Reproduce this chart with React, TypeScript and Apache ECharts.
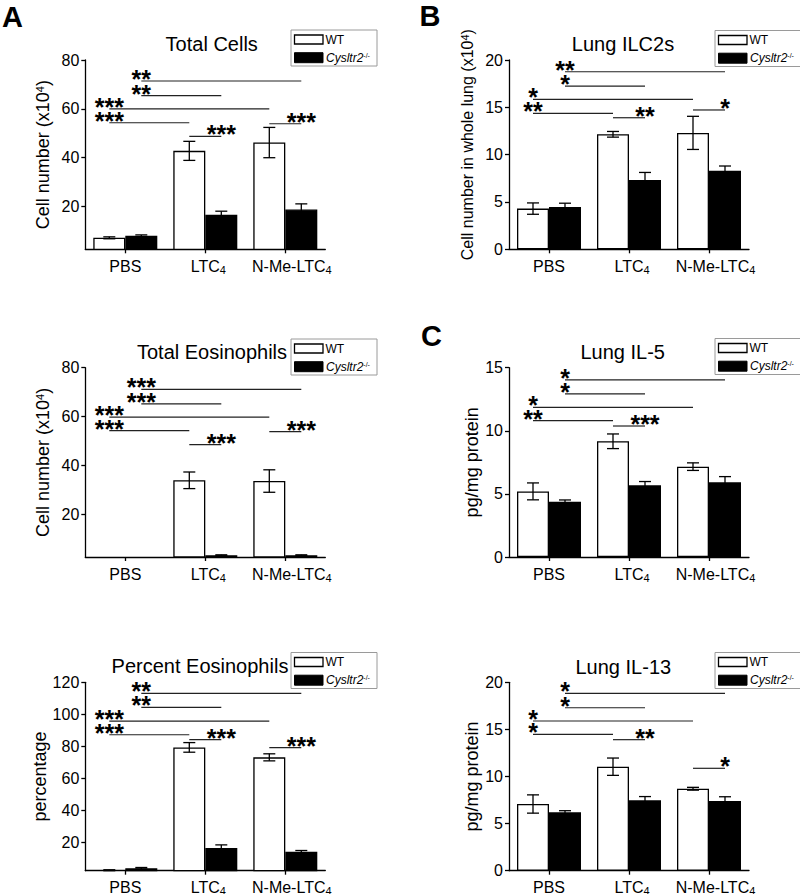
import React, { useEffect, useRef } from 'react';
import * as echarts from 'echarts';

const FONT = '"Liberation Sans", Arial, Helvetica, sans-serif';

// ---------- data ----------
const categories = ['PBS', 'LTC4', 'N-Me-LTC4'];

const totalCellsWT = [7.2, 42.8, 46.2];
const totalCellsWTErr = [0.4, 3.9, 6.2];
const totalCellsKO = [8.0, 16.6, 18.8];
const totalCellsKOErr = [0.4, 1.5, 2.3];

const totalEosWT = [0.4, 33.9, 33.6];
const totalEosWTErr = [0, 3.4, 4.6];
const totalEosKO = [0.2, 3.2, 3.2];
const totalEosKOErr = [0, 0.2, 0.2];

const pctEosWT = [2.8, 79.4, 73.2];
const pctEosWTErr = [0.3, 3.0, 2.2];
const pctEosKO = [4.0, 16.6, 14.3];
const pctEosKOErr = [0.5, 2.0, 0.8];

const ilc2WT = [4.3, 12.15, 12.3];
const ilc2WTErr = [0.6, 0.3, 1.75];
const ilc2KO = [4.47, 7.32, 8.3];
const ilc2KOErr = [0.4, 0.8, 0.5];

const il5WT = [5.2, 9.17, 7.16];
const il5WTErr = [0.67, 0.58, 0.3];
const il5KO = [4.38, 5.68, 5.92];
const il5KOErr = [0.14, 0.3, 0.45];

const il13WT = [7.08, 11.04, 8.7];
const il13WTErr = [0.97, 0.92, 0.15];
const il13KO = [6.2, 7.47, 7.4];
const il13KOErr = [0.17, 0.4, 0.45];

// significance: [fromCat, fromSide(-1 WT / 1 KO), toCat, toSide, y, stars, anchorAtEnd]
const sigTotalCells = [
  [0, 1, 2, 1, 71.4, '**', 0],
  [0, 1, 1, 1, 65.4, '**', 0],
  [0, -1, 2, -1, 60.0, '***', 0],
  [0, -1, 1, -1, 54.3, '***', 0],
  [1, -1, 1, 1, 48.7, '***', 1],
  [2, -1, 2, 1, 53.9, '***', 1],
];
const sigTotalEos = [
  [0, 1, 2, 1, 71.1, '***', 0],
  [0, 1, 1, 1, 65.2, '***', 0],
  [0, -1, 2, -1, 59.8, '***', 0],
  [0, -1, 1, -1, 54.2, '***', 0],
  [1, -1, 1, 1, 48.5, '***', 1],
  [2, -1, 2, 1, 53.8, '***', 1],
];
const sigPctEos = [
  [0, 1, 2, 1, 113.1, '**', 0],
  [0, 1, 1, 1, 104.4, '**', 0],
  [0, -1, 2, -1, 95.8, '***', 0],
  [0, -1, 1, -1, 87.3, '***', 0],
  [1, -1, 1, 1, 84.2, '***', 1],
  [2, -1, 2, 1, 79.2, '***', 1],
];
const sigIlc2 = [
  [0, 1, 2, 1, 18.76, '**', 0],
  [0, 1, 1, 1, 17.25, '*', 0],
  [0, -1, 2, -1, 15.85, '*', 0],
  [0, -1, 1, -1, 14.37, '**', 0],
  [1, -1, 1, 1, 13.9, '**', 1],
  [2, -1, 2, 1, 14.72, '*', 1],
];
const sigIl5 = [
  [0, 1, 2, 1, 14.03, '*', 0],
  [0, 1, 1, 1, 12.92, '*', 0],
  [0, -1, 2, -1, 11.86, '*', 0],
  [0, -1, 1, -1, 10.8, '**', 0],
  [1, -1, 1, 1, 10.38, '***', 1],
];
const sigIl13 = [
  [0, 1, 2, 1, 18.83, '*', 0],
  [0, 1, 1, 1, 17.3, '*', 0],
  [0, -1, 2, -1, 15.89, '*', 0],
  [0, -1, 1, -1, 14.48, '*', 0],
  [1, -1, 1, 1, 13.91, '**', 1],
  [2, -1, 2, 1, 10.87, '*', 1],
];

const ticks80 = [20, 40, 60, 80];
const ticks120 = [20, 40, 60, 80, 100, 120];

// ---------- panels (layout) ----------
const panels: any[] = [
  {
    title: 'Total Cells', titleX: 211.7, titleY: 44.3,
    yName: '{a|Cell number (x10}{s|4}{a|)}', yNameSize: 18, yNameGap: 33, yNameShift: 0,
    min: 2.5, max: 80, ticks: ticks80,
    wt: totalCellsWT, wtErr: totalCellsWTErr, ko: totalCellsKO, koErr: totalCellsKOErr, sig: sigTotalCells,
    left: 85.3, top: 60, height: 189.3, legX: 291, legY: 30,
  },
  {
    title: 'Total Eosinophils', titleX: 212, titleY: 351.7,
    yName: '{a|Cell number (x10}{s|4}{a|)}', yNameSize: 18, yNameGap: 33, yNameShift: 0,
    min: 2.5, max: 80, ticks: ticks80,
    wt: totalEosWT, wtErr: totalEosWTErr, ko: totalEosKO, koErr: totalEosKOErr, sig: sigTotalEos,
    left: 85.3, top: 367.7, height: 189.3, legX: 291, legY: 339,
  },
  {
    title: 'Percent Eosinophils', titleX: 200, titleY: 665.7,
    yName: '{a|percentage}', yNameSize: 18, yNameGap: 33, yNameShift: 0,
    min: 2.5, max: 120, ticks: ticks120,
    wt: pctEosWT, wtErr: pctEosWTErr, ko: pctEosKO, koErr: pctEosKOErr, sig: sigPctEos,
    left: 85.3, top: 682.3, height: 188.4, legX: 291, legY: 652.5,
  },
  {
    title: 'Lung ILC2s', titleX: 623, titleY: 44.3,
    yName: '{a|Cell number in whole lung (x10}{s|4}{a|)}', yNameSize: 16, yNameGap: 34, yNameShift: 20,
    min: 0, max: 20, interval: 5,
    wt: ilc2WT, wtErr: ilc2WTErr, ko: ilc2KO, koErr: ilc2KOErr, sig: sigIlc2,
    left: 509, top: 60, height: 189.3, legX: 715, legY: 30.5,
  },
  {
    title: 'Lung IL-5', titleX: 622.7, titleY: 351.7,
    yName: '{a|pg/mg protein}', yNameSize: 18, yNameGap: 28, yNameShift: 0,
    min: 0, max: 15, interval: 5,
    wt: il5WT, wtErr: il5WTErr, ko: il5KO, koErr: il5KOErr, sig: sigIl5,
    left: 509, top: 367.7, height: 189.3, legX: 715, legY: 338.5,
  },
  {
    title: 'Lung IL-13', titleX: 623.3, titleY: 666.7,
    yName: '{a|pg/mg protein}', yNameSize: 18, yNameGap: 28, yNameShift: 0,
    min: 0, max: 20, interval: 5,
    wt: il13WT, wtErr: il13WTErr, ko: il13KO, koErr: il13KOErr, sig: sigIl13,
    left: 509, top: 682.3, height: 188.4, legX: 715, legY: 652.5,
  },
];

const letters = [
  { text: 'A', x: 12.5, y: 17 },
  { text: 'B', x: 430, y: 16 },
  { text: 'C', x: 431.5, y: 336 },
];

const errRender = (off: number) => (params: any, api: any) => {
  const j = api.value(0);
  const v = api.value(1);
  const e = api.value(2);
  if (!e) return null;
  const band = api.size([1, 0])[0];
  const c = api.coord([j, v]);
  const cx = c[0] + off * band;
  const yt = api.coord([j, v + e])[1];
  const yb = api.coord([j, v - e])[1];
  const cap = 6;
  const style = { stroke: '#000', lineWidth: 1.3, fill: null };
  return {
    type: 'group',
    children: [
      { type: 'line', shape: { x1: cx, y1: yt, x2: cx, y2: yb }, style },
      { type: 'line', shape: { x1: cx - cap, y1: yt, x2: cx + cap, y2: yt }, style },
      { type: 'line', shape: { x1: cx - cap, y1: yb, x2: cx + cap, y2: yb }, style },
    ],
  };
};

const sigRender = (sig: any[]) => (params: any, api: any) => {
  const s = sig[params.dataIndex];
  const band = api.size([1, 0])[0];
  const p1 = api.coord([s[0], s[4]]);
  const p2 = api.coord([s[2], s[4]]);
  const x1 = p1[0] + s[1] * 0.2 * band;
  const x2 = p2[0] + s[3] * 0.2 * band;
  const y = p1[1];
  const ax = s[6] ? x2 : x1;
  return {
    type: 'group',
    children: [
      { type: 'line', shape: { x1, y1: y, x2, y2: y }, style: { stroke: '#222', lineWidth: 1.2 } },
      {
        type: 'text',
        x: ax,
        y: y - 2,
        style: {
          text: s[5], fill: '#000', fontSize: 25, fontFamily: FONT, fontWeight: 'bold', lineHeight: 11,
          align: 'center', verticalAlign: 'middle', textAlign: 'center', textVerticalAlign: 'middle',
        },
      },
    ],
  };
};

const catFormatter = (v: string) => {
  if (v === 'LTC4') return '{b|LTC}{s|4}';
  if (v === 'N-Me-LTC4') return '{c|N-Me-LTC}{s|4}';
  return '{a|' + v + '}';
};

function buildOption() {
  const grid = panels.map((p) => ({
    left: p.left, top: p.top, width: 240, height: p.height,
    containLabel: false, outerBoundsMode: 'none',
  }));
  const lbl = { fontSize: 16, fontFamily: FONT, color: '#000', verticalAlign: 'bottom' };
  const xAxis = panels.map((p, i) => ({
    type: 'category',
    gridIndex: i,
    data: categories,
    axisLine: { show: true, lineStyle: { color: '#000', width: 1.3 } },
    axisTick: { show: true, alignWithLabel: true, interval: 0, length: 4, inside: false, lineStyle: { color: '#000', width: 1.3 } },
    axisLabel: {
      interval: 0, hideOverlap: false,
      margin: 9, color: '#000', formatter: catFormatter,
      rich: {
        a: { ...lbl },
        b: { ...lbl, padding: [0, 0, 0, 6] },
        c: { ...lbl, padding: [0, 0, 0, 13] },
        s: { fontSize: 11, fontFamily: FONT, color: '#000', verticalAlign: 'bottom', padding: [0, 0, -1, 0] },
      },
    },
    splitLine: { show: false },
  }));
  const yAxis = panels.map((p, i) => {
    const ax: any = {
      type: 'value',
      gridIndex: i,
      min: p.min,
      max: p.max,
      axisLine: { show: true, lineStyle: { color: '#000', width: 1.3 } },
      axisTick: { show: true, length: 4, inside: false, lineStyle: { color: '#000', width: 1.3 } },
      axisLabel: { show: true, margin: 6, color: '#000', fontSize: 16, fontFamily: FONT },
      splitLine: { show: false },
      name: p.yName,
      nameLocation: 'middle',
      nameGap: p.yNameGap,
      nameTextStyle: {
        color: '#000',
        padding: [0, 0, 0, p.yNameShift],
        rich: {
          a: { fontSize: p.yNameSize, fontFamily: FONT, color: '#000', verticalAlign: 'top' },
          s: { fontSize: 11, fontFamily: FONT, color: '#000', verticalAlign: 'top' },
        },
      },
    };
    if (p.ticks) {
      ax.axisTick.customValues = p.ticks;
      ax.axisLabel.customValues = p.ticks;
    } else {
      ax.interval = p.interval;
    }
    return ax;
  });
  const series: any[] = [];
  panels.forEach((p, i) => {
    series.push({
      type: 'bar', name: 'WT', xAxisIndex: i, yAxisIndex: i, data: p.wt,
      barWidth: '40%', barGap: '0%', clip: true,
      itemStyle: { color: '#fff', borderColor: '#000', borderWidth: 1.3 },
    });
    series.push({
      type: 'bar', name: 'Cysltr2-/-', xAxisIndex: i, yAxisIndex: i, data: p.ko,
      barWidth: '40%', barGap: '0%', clip: true,
      itemStyle: { color: '#000', borderColor: '#000', borderWidth: 1.3 },
    });
    series.push({
      type: 'custom', xAxisIndex: i, yAxisIndex: i, z: 5,
      data: p.wt.map((v: number, j: number) => [j, v, p.wtErr[j]]),
      renderItem: errRender(-0.2),
    });
    series.push({
      type: 'custom', xAxisIndex: i, yAxisIndex: i, z: 5,
      data: p.ko.map((v: number, j: number) => [j, v, p.koErr[j]]),
      renderItem: errRender(0.2),
    });
    series.push({
      type: 'custom', xAxisIndex: i, yAxisIndex: i, z: 6,
      data: p.sig.map((s: any[]) => [s[0], s[4]]),
      renderItem: sigRender(p.sig),
    });
  });

  const graphic: any[] = [];
  panels.forEach((p) => {
    graphic.push({
      type: 'text', x: p.titleX, y: p.titleY,
      style: {
        text: p.title, fill: '#000', fontSize: 20, fontFamily: FONT,
        align: 'center', verticalAlign: 'middle', textAlign: 'center', textVerticalAlign: 'middle',
      },
    });
    const x = p.legX, y = p.legY;
    graphic.push({ type: 'rect', shape: { x, y, width: 86, height: 36 }, style: { fill: '#fff', stroke: '#9a9a9a', lineWidth: 1 } });
    graphic.push({ type: 'rect', shape: { x: x + 3.5, y: y + 5, width: 28.5, height: 9 }, style: { fill: '#fff', stroke: '#000', lineWidth: 1.3 } });
    graphic.push({
      type: 'text', x: x + 34.5, y: y + 9.7,
      style: { text: 'WT', fill: '#000', fontSize: 12, fontFamily: FONT, verticalAlign: 'middle', textVerticalAlign: 'middle' },
    });
    graphic.push({ type: 'rect', shape: { x: x + 3.5, y: y + 22.7, width: 28.5, height: 10 }, style: { fill: '#000', stroke: '#000', lineWidth: 1 } });
    graphic.push({
      type: 'text', x: x + 35, y: y + 27.7,
      style: {
        text: '{i|Cysltr2}{s|-/-}', fill: '#000', verticalAlign: 'middle', textVerticalAlign: 'middle',
        rich: {
          i: { fontSize: 12, fontStyle: 'italic', fontFamily: FONT, fill: '#000', verticalAlign: 'bottom' },
          s: { fontSize: 7, fontFamily: FONT, fill: '#000', verticalAlign: 'top' },
        },
      },
    });
  });
  letters.forEach((l) => {
    graphic.push({
      type: 'text', x: l.x, y: l.y,
      style: {
        text: l.text, fill: '#000', fontSize: 29, fontWeight: 'bold', fontFamily: FONT,
        align: 'center', verticalAlign: 'middle', textAlign: 'center', textVerticalAlign: 'middle',
      },
    });
  });

  return {
    animation: false,
    backgroundColor: '#fff',
    textStyle: { fontFamily: FONT },
    grid,
    xAxis,
    yAxis,
    series,
    graphic,
  };
}

export default function App() {
  const ref = useRef<HTMLDivElement>(null);
  useEffect(() => {
    if (!ref.current) return;
    const chart = echarts.init(ref.current, null, { renderer: 'svg' });
    chart.setOption(buildOption() as any);
    return () => chart.dispose();
  }, []);
  return (
    <div
      ref={ref}
      style={{ position: 'absolute', left: 0, top: 0, width: 800, height: 894, background: '#fff' }}
    />
  );
}
